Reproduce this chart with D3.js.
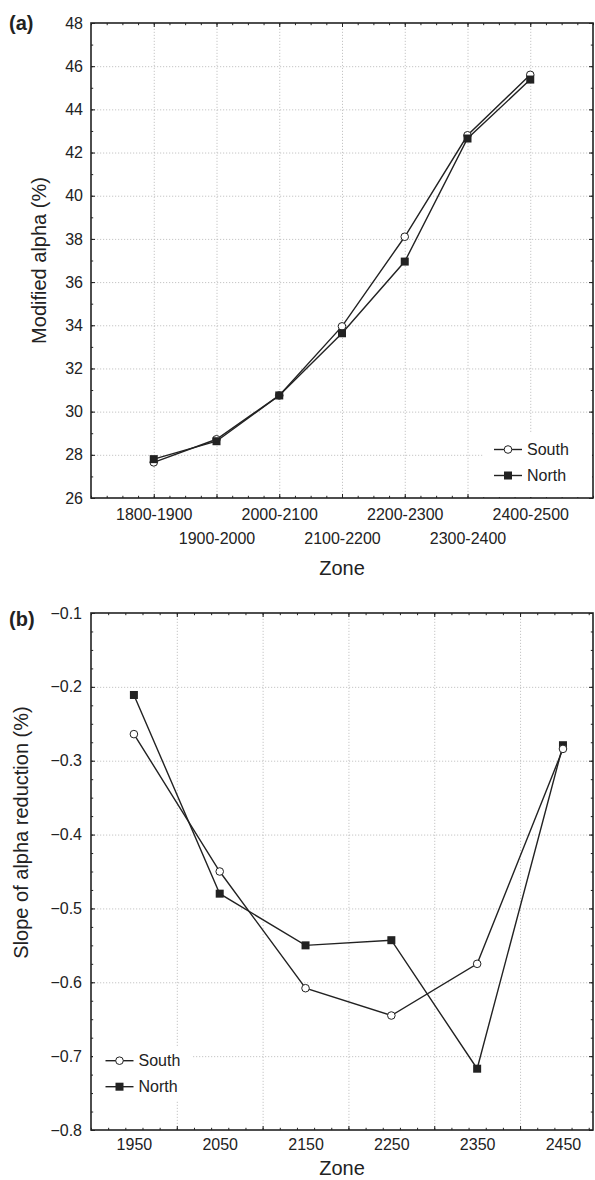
<!DOCTYPE html>
<html>
<head>
<meta charset="utf-8">
<script src="https://cdn.jsdelivr.net/npm/d3@7"></script>
<style>
	body { margin: 0; background: #fff; }
	svg { display: block; font-family: "Liberation Sans", Arial, sans-serif; }
	.grid line { stroke: #b8b8b8; stroke-width: 0.8; stroke-dasharray: 1.2,1.8; }
	.grid .domain { display: none; }
	.tick text { fill: #222; }
</style>
</head>
<body>
<div id="chart"></div>
<script>
// Panel (a): modified alpha by zone
var zoneCats = ["1800-1900", "1900-2000", "2000-2100", "2100-2200", "2200-2300", "2300-2400", "2400-2500"];
var alphaSouth = [27.65, 28.72, 30.75, 33.95, 38.1, 42.8, 45.6];
var alphaNorth = [27.8, 28.63, 30.75, 33.63, 36.95, 42.65, 45.38];
var alphaTicks = [26, 28, 30, 32, 34, 36, 38, 40, 42, 44, 46, 48];

// Panel (b): slope of alpha reduction
var zoneMids = [1950, 2050, 2150, 2250, 2350, 2450];
var slopeSouth = [-0.264, -0.45, -0.608, -0.645, -0.575, -0.284];
var slopeNorth = [-0.211, -0.48, -0.55, -0.543, -0.717, -0.279];
var slopeTicks = [-0.8, -0.7, -0.6, -0.5, -0.4, -0.3, -0.2, -0.1];
var zoneGrid = [2000, 2100, 2200, 2300, 2400];

var seriesNames = ["South", "North"];
var ink = "#222";

var svg = d3.select("#chart").append("svg")
		.attr("width", 595)
		.attr("height", 1180);

// inward ticks on all four sides, minor and major
function frameTicks(g, x, y, w, h, xMinor, xMajor, yMinor, yMajor) {
	var sets = [[xMinor, 2.2], [xMajor, 4]];
	sets.forEach(function(s) {
		g.append("g").attr("transform", "translate(0," + h + ")")
				.call(d3.axisBottom(x).tickValues(s[0]).tickSize(-s[1]).tickFormat(""));
		g.append("g")
				.call(d3.axisTop(x).tickValues(s[0]).tickSize(-s[1]).tickFormat(""));
	});
	[[yMinor, 2.2], [yMajor, 4]].forEach(function(s) {
		g.append("g")
				.call(d3.axisLeft(y).tickValues(s[0]).tickSize(-s[1]).tickFormat(""));
		g.append("g").attr("transform", "translate(" + w + ",0)")
				.call(d3.axisRight(y).tickValues(s[0]).tickSize(-s[1]).tickFormat(""));
	});
	g.selectAll(".domain").remove();
	g.selectAll(".tick line").attr("stroke", ink).attr("stroke-width", 1);
	g.append("rect")
			.attr("width", w)
			.attr("height", h)
			.attr("fill", "none")
			.attr("stroke", ink)
			.attr("stroke-width", 1.6);
}

function drawSeries(g, pts, shape) {
	var line = d3.line()
			.x(function(d) { return d[0]; })
			.y(function(d) { return d[1]; });
	g.append("path")
			.attr("d", line(pts))
			.attr("fill", "none")
			.attr("stroke", ink)
			.attr("stroke-width", 1.4);
	drawMarkers(g, pts, shape);
}

function drawMarkers(g, pts, shape) {
	if (shape === "circle") {
		g.selectAll(null).data(pts).enter().append("circle")
				.attr("cx", function(d) { return d[0]; })
				.attr("cy", function(d) { return d[1]; })
				.attr("r", 3.8)
				.attr("fill", "#fff")
				.attr("stroke", ink)
				.attr("stroke-width", 1);
	} else {
		g.selectAll(null).data(pts).enter().append("rect")
				.attr("x", function(d) { return d[0] - 4; })
				.attr("y", function(d) { return d[1] - 4; })
				.attr("width", 8)
				.attr("height", 8)
				.attr("fill", ink);
	}
}

function legend(g, x0, y0) {
	seriesNames.forEach(function(name, i) {
		var yy = y0 + i * 26;
		g.append("line")
				.attr("x1", x0).attr("x2", x0 + 28)
				.attr("y1", yy).attr("y2", yy)
				.attr("stroke", ink)
				.attr("stroke-width", 1.4);
		drawMarkers(g, [[x0 + 14, yy]], i === 0 ? "circle" : "square");
		g.append("text")
				.attr("x", x0 + 33)
				.attr("y", yy)
				.attr("dy", "0.36em")
				.attr("font-size", 16)
				.attr("fill", ink)
				.text(name);
	});
}

// ---------- panel (a)
(function() {
	var margin = {left: 91, top: 23},
			w = 502, h = 475;
	var g = svg.append("g").attr("transform", "translate(" + margin.left + "," + margin.top + ")");

	var x = d3.scalePoint().domain(zoneCats).range([0, w]).padding(1);
	var xi = d3.scaleLinear().domain([0, zoneCats.length + 1]).range([0, w]);
	var y = d3.scaleLinear().domain([26, 48]).range([h, 0]);

	g.append("g").attr("class", "grid")
			.call(d3.axisLeft(y).tickValues(alphaTicks.slice(1, -1)).tickSize(-w).tickFormat(""));
	g.append("g").attr("class", "grid").attr("transform", "translate(0," + h + ")")
			.call(d3.axisBottom(x).tickSize(-h).tickFormat(""));

	var xMinor = d3.range(0, zoneCats.length + 1.01, 0.25);
	var xMajor = d3.range(1, zoneCats.length + 1);
	frameTicks(g, xi, y, w, h, xMinor, xMajor, d3.range(26, 48.01, 1), alphaTicks);

	// tick labels
	g.append("g")
			.call(d3.axisLeft(y).tickValues(alphaTicks).tickSize(0).tickPadding(8))
			.call(function(a) { a.select(".domain").remove(); })
			.attr("font-size", 16);
	var xa = g.append("g").attr("transform", "translate(0," + h + ")")
			.call(d3.axisBottom(x).tickSize(0))
			.attr("font-size", 16);
	xa.select(".domain").remove();
	xa.selectAll("text")
			.attr("dy", null)
			.attr("y", function(d, i) { return i % 2 ? 45.5 : 21.5; });

	// legend backdrop
	g.append("rect")
			.attr("x", 392).attr("y", 410)
			.attr("width", w - 393).attr("height", h - 411)
			.attr("fill", "#fff");

	drawSeries(g, alphaSouth.map(function(v, i) { return [x(zoneCats[i]), y(v)]; }), "circle");
	drawSeries(g, alphaNorth.map(function(v, i) { return [x(zoneCats[i]), y(v)]; }), "square");
	legend(g, 403, 426.5);

	g.append("text")
			.attr("x", w / 2).attr("y", h + 77)
			.attr("text-anchor", "middle")
			.attr("font-size", 20)
			.attr("fill", ink)
			.text("Zone");
	g.append("text")
			.attr("transform", "translate(-45," + (h / 2) + ") rotate(-90)")
			.attr("text-anchor", "middle")
			.attr("font-size", 20)
			.attr("fill", ink)
			.text("Modified alpha (%)");
	svg.append("text")
			.attr("x", 9).attr("y", 30)
			.attr("font-size", 20)
			.attr("font-weight", "bold")
			.attr("fill", ink)
			.text("(a)");
})();

// ---------- panel (b)
(function() {
	var margin = {left: 91, top: 613},
			w = 502, h = 517;
	var g = svg.append("g").attr("transform", "translate(" + margin.left + "," + margin.top + ")");

	var x = d3.scaleLinear().domain([1900, 2485]).range([0, w]);
	var y = d3.scaleLinear().domain([-0.8, -0.1]).range([h, 0]);

	g.append("g").attr("class", "grid")
			.call(d3.axisLeft(y).tickValues(slopeTicks.slice(1, -1)).tickSize(-w).tickFormat(""));
	g.append("g").attr("class", "grid").attr("transform", "translate(0," + h + ")")
			.call(d3.axisBottom(x).tickValues(zoneGrid).tickSize(-h).tickFormat(""));

	frameTicks(g, x, y, w, h, d3.range(1900, 2485, 20), zoneGrid,
			d3.range(-0.8, -0.0999, 0.025), slopeTicks);

	g.append("g")
			.call(d3.axisLeft(y).tickValues(slopeTicks).tickSize(0).tickPadding(9).tickFormat(d3.format(".1f")))
			.call(function(a) { a.select(".domain").remove(); })
			.attr("font-size", 16);
	var xa = g.append("g").attr("transform", "translate(0," + h + ")")
			.call(d3.axisBottom(x).tickValues(zoneMids).tickSize(0).tickFormat(d3.format("d")))
			.attr("font-size", 16);
	xa.select(".domain").remove();
	xa.selectAll("text").attr("dy", null).attr("y", 19.5);

	g.append("rect")
			.attr("x", 2).attr("y", 433)
			.attr("width", 99).attr("height", 55)
			.attr("fill", "#fff");

	drawSeries(g, slopeNorth.map(function(v, i) { return [x(zoneMids[i]), y(v)]; }), "square");
	drawSeries(g, slopeSouth.map(function(v, i) { return [x(zoneMids[i]), y(v)]; }), "circle");
	legend(g, 14.5, 447.7);

	g.append("text")
			.attr("x", w / 2).attr("y", h + 45)
			.attr("text-anchor", "middle")
			.attr("font-size", 20)
			.attr("fill", ink)
			.text("Zone");
	g.append("text")
			.attr("transform", "translate(-63," + (h / 2 - 39) + ") rotate(-90)")
			.attr("text-anchor", "middle")
			.attr("font-size", 20)
			.attr("fill", ink)
			.text("Slope of alpha reduction (%)");
	svg.append("text")
			.attr("x", 9).attr("y", 626)
			.attr("font-size", 20)
			.attr("font-weight", "bold")
			.attr("fill", ink)
			.text("(b)");
})();
</script>
</body>
</html>
